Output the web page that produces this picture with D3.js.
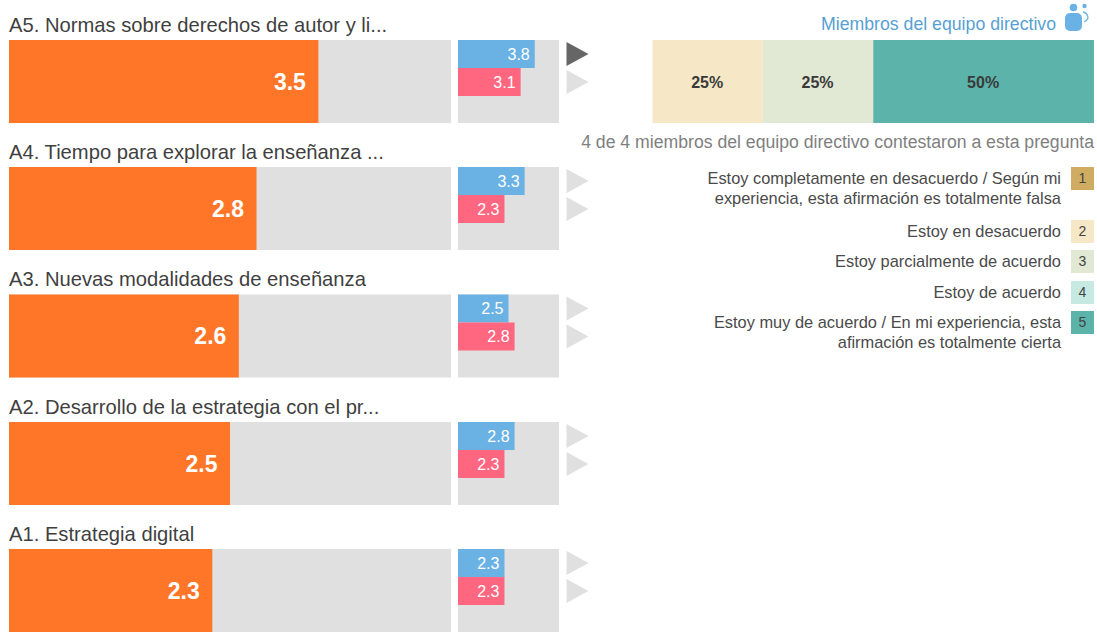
<!DOCTYPE html>
<html><head><meta charset="utf-8">
<script src="https://cdn.jsdelivr.net/npm/d3@7"></script>
<style>html,body{margin:0;padding:0;background:#fff}svg{display:block}text{font-family:"Liberation Sans",Arial,sans-serif}</style>
</head><body><svg id="c" width="1097" height="634"></svg>
<script>
const labels = ["A5. Normas sobre derechos de autor y li...","A4. Tiempo para explorar la enseñanza ...","A3. Nuevas modalidades de enseñanza","A2. Desarrollo de la estrategia con el pr...","A1. Estrategia digital"];
const mainValues = [3.5,2.8,2.6,2.5,2.3];
const blueValues = [3.8,3.3,2.5,2.8,2.3];
const redValues = [3.1,2.3,2.8,2.3,2.3];
const activeRow = 0;
const stackShares = [25,25,50];
const stackLevels = [2,3,5];
const legendLevels = [1,2,3,4,5];
const legendColors = ["#d0ac62","#f6e8c6","#e1e8d4","#c6e9e2","#5bb3a9"];
const legendTexts = [["Estoy completamente en desacuerdo / Según mi","experiencia, esta afirmación es totalmente falsa"],["Estoy en desacuerdo"],["Estoy parcialmente de acuerdo"],["Estoy de acuerdo"],["Estoy muy de acuerdo / En mi experiencia, esta","afirmación es totalmente cierta"]];
const legendTops = [167,220,250,281,311];
const groupTitle = "Miembros del equipo directivo";
const respondents = "4 de 4 miembros del equipo directivo contestaron a esta pregunta";

const svg = d3.select("#c");
const rowTops = [40,167,294.5,422,549];
const rowH = 83;
const xMain = d3.scaleLinear().domain([0,5]).range([9,451]);
const xSmall = d3.scaleLinear().domain([0,5]).range([458,559]);
const xStack = d3.scaleLinear().domain([0,100]).range([652.5,1094]);
const rows = svg.selectAll("g.row").data(labels).join("g").attr("class","row")
  .attr("transform",(d,i)=>`translate(0,${rowTops[i]})`);
rows.append("text").attr("x",9).attr("y",-8.5).attr("font-size",20.2).attr("fill","#3f3f3f").text(d=>d);
rows.append("rect").attr("x",xMain(0)).attr("y",0).attr("width",xMain(5)-xMain(0)).attr("height",rowH).attr("fill","#e0e0e0");
rows.append("rect").attr("x",xMain(0)).attr("y",0).attr("width",(d,i)=>xMain(mainValues[i])-xMain(0)).attr("height",rowH).attr("fill","#ff7629");
rows.append("text").attr("x",(d,i)=>xMain(mainValues[i])-12.5).attr("y",49.5).attr("text-anchor","end").attr("font-size",23).attr("font-weight","bold").attr("fill","#fff").text((d,i)=>mainValues[i].toFixed(1));
rows.append("rect").attr("x",xSmall(0)).attr("y",0).attr("width",xSmall(5)-xSmall(0)).attr("height",rowH).attr("fill","#e0e0e0");
[[blueValues,"#6bb2e4",0],[redValues,"#ff667f",28]].forEach(([vals,col,dy],k)=>{
  rows.append("rect").attr("x",xSmall(0)).attr("y",dy).attr("width",(d,i)=>xSmall(vals[i])-xSmall(0)).attr("height",28).attr("fill",col);
  rows.append("text").attr("x",(d,i)=>xSmall(vals[i])-5).attr("y",dy+19.5).attr("text-anchor","end").attr("font-size",16).attr("fill","#fff").text((d,i)=>vals[i].toFixed(1));
  rows.append("path").attr("d",`M566.5,${dy+2}L588.5,${dy+14}L566.5,${dy+26}Z`)
    .attr("fill",(d,i)=>(i===activeRow&&k===0)?"#666666":"#e0e0e0");
});
let acc = 0;
const segs = stackShares.map((s,i)=>{const r={s,l:stackLevels[i],a:acc};acc+=s;return r;});
const sg = svg.selectAll("g.seg").data(segs).join("g").attr("class","seg");
sg.append("rect").attr("x",d=>xStack(d.a)).attr("y",40).attr("width",d=>xStack(d.a+d.s)-xStack(d.a)).attr("height",83).attr("fill",d=>legendColors[d.l-1]);
sg.append("text").attr("x",d=>xStack(d.a+d.s/2)-0.5).attr("y",88).attr("text-anchor","middle").attr("font-size",16).attr("font-weight","bold").attr("fill","#3a3a3a").text(d=>d.s+"%");
svg.append("text").attr("x",1056).attr("y",30).attr("text-anchor","end").attr("font-size",17.7).attr("fill","#579fd3").text(groupTitle);
svg.append("circle").attr("cx",1073.5).attr("cy",7.5).attr("r",3.8).attr("fill","#6bb2e4");
svg.append("circle").attr("cx",1084.5).attr("cy",6).attr("r",2.2).attr("fill","#6bb2e4");
svg.append("rect").attr("x",1065).attr("y",13).attr("width",17).attr("height",18).attr("rx",5).attr("fill","#6bb2e4");
svg.append("path").attr("d","M1083,12A6.5,6.5 0 0 1 1088,18A7,7 0 0 1 1084,22").attr("fill","none").attr("stroke","#6bb2e4").attr("stroke-width",1.3);
svg.append("text").attr("x",1094).attr("y",148).attr("text-anchor","end").attr("font-size",17.65).attr("fill","#7f7f7f").text(respondents);
const lg = svg.selectAll("g.leg").data(legendLevels).join("g").attr("class","leg").attr("transform",(d,i)=>`translate(0,${legendTops[i]})`);
lg.append("rect").attr("x",1071).attr("y",0).attr("width",23).attr("height",23).attr("fill",(d,i)=>legendColors[i]);
lg.append("text").attr("x",1082.5).attr("y",16).attr("text-anchor","middle").attr("font-size",14).attr("fill","#444").text(d=>d);
lg.each(function(d,i){
  const g=d3.select(this);
  legendTexts[i].forEach((t,j)=>g.append("text").attr("x",1061).attr("y",17+j*19.5).attr("text-anchor","end").attr("font-size",16.4).attr("fill","#4a4a4a").text(t));
});
</script></body></html>
